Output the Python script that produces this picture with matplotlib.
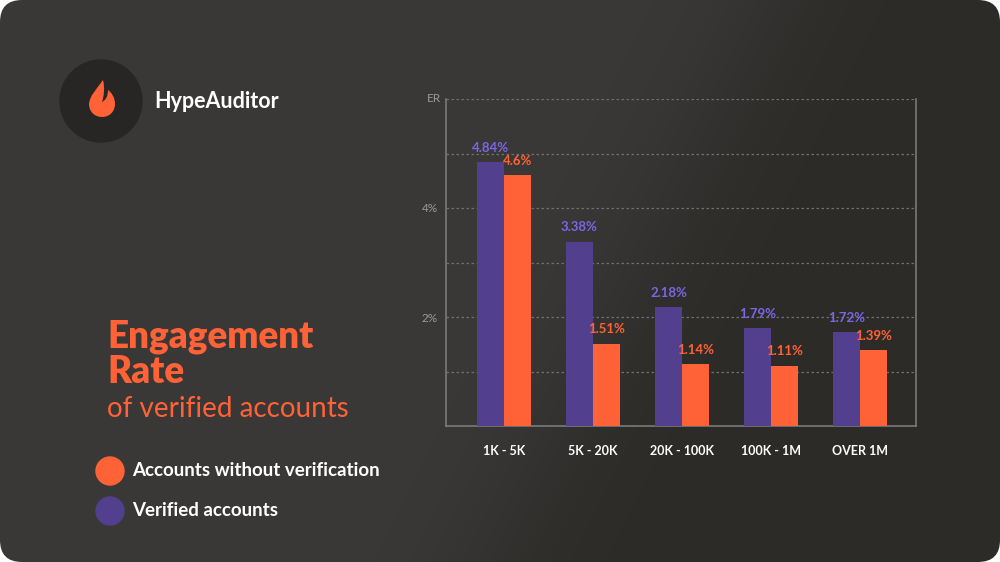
import matplotlib.pyplot as plt
import numpy as np
from matplotlib.patches import FancyBboxPatch, Circle, PathPatch
from matplotlib.path import Path

categories = ["1K - 5K", "5K - 20K", "20K - 100K", "100K - 1M", "OVER 1M"]
verified = [4.84, 3.38, 2.18, 1.79, 1.72]
not_verified = [4.6, 1.51, 1.14, 1.11, 1.39]
y_ticks = [2, 4]
y_tick_labels = ["2%", "4%"]

ORANGE = "#ff6236"
PURPLE = "#523f8e"
PURPLE_TXT = "#7b66e6"
FONT = "Lato"

fig = plt.figure(figsize=(10, 5.62), dpi=100, facecolor="white")

# background card with rounded corners and a soft diagonal shading
bg = fig.add_axes([0, 0, 1, 1])
bg.set_xlim(0, 1000)
bg.set_ylim(562, 0)
bg.axis("off")
xx, yy = np.meshgrid(np.linspace(0, 1000, 500), np.linspace(0, 562, 281))
d = (xx - (770 - 0.5 * yy)) / 45.0
shade = 1 / (1 + np.exp(d))
light = np.array([0x3a, 0x39, 0x38]) / 255
dark = np.array([0x2d, 0x2b, 0x28]) / 255
img = shade[..., None] * light + (1 - shade[..., None]) * dark
card = FancyBboxPatch((0, 0), 1000, 562, boxstyle="round,pad=0,rounding_size=22",
                      facecolor="none", edgecolor="none")
bg.add_patch(card)
im = bg.imshow(img, extent=(0, 1000, 562, 0), aspect="auto", zorder=0)
im.set_clip_path(card)

# logo
bg.add_patch(Circle((101, 101), 41, color="#272625", zorder=2))
flame = Path(
    [(103, 80), (96, 90), (90, 95), (89, 104), (89, 112), (95, 117), (102, 117),
     (110, 117), (115, 111), (115, 104), (115, 97), (111, 92), (108, 90),
     (108, 96), (106, 100), (102, 102), (104, 96), (105, 88), (103, 80), (103, 80)],
    [Path.MOVETO, Path.CURVE4, Path.CURVE4, Path.CURVE4, Path.CURVE4, Path.CURVE4,
     Path.CURVE4, Path.CURVE4, Path.CURVE4, Path.CURVE4, Path.CURVE4, Path.CURVE4,
     Path.CURVE4, Path.CURVE4, Path.CURVE4, Path.CURVE4, Path.CURVE4, Path.CURVE4,
     Path.CURVE4, Path.CLOSEPOLY])
bg.add_patch(PathPatch(flame, facecolor=ORANGE, edgecolor="none", zorder=3))
bg.text(154, 101, "HypeAuditor", color="white", fontsize=15.5, fontweight="bold",
        family=FONT, va="center", ha="left")

# title block
bg.text(107, 347, "Engagement", color=ORANGE, fontsize=26.5, fontweight="heavy",
        family=FONT, va="baseline")
bg.text(107, 383, "Rate", color=ORANGE, fontsize=26.5, fontweight="heavy",
        family=FONT, va="baseline")
bg.text(107, 417, "of verified accounts", color=ORANGE, fontsize=20,
        family=FONT, va="baseline")

# legend
legend_items = [("Accounts without verification", ORANGE), ("Verified accounts", PURPLE)]
for i, (lab, col) in enumerate(legend_items):
    y = 471 + i * 40
    bg.add_patch(Circle((110, y), 14, color=col, zorder=2))
    bg.text(132, y, lab, color="white", fontsize=13.5, fontweight="bold",
            family=FONT, va="center", ha="left")

# chart
ax = fig.add_axes([0.446, 1 - 426 / 562, 0.47, (426 - 99) / 562])
ax.set_facecolor("none")
x = np.arange(len(categories))
w = 0.30
b1 = ax.bar(x - w / 2, verified, w, color=PURPLE, zorder=3)
b2 = ax.bar(x + w / 2, not_verified, w, color=ORANGE, zorder=3)
for rect, v in zip(b1, verified):
    ax.annotate(f"{v:g}%", (rect.get_x() + rect.get_width() / 2, v),
                xytext=(0, 6), textcoords="offset points", ha="center",
                va="bottom", color=PURPLE_TXT, fontsize=9.5, fontweight="bold",
                family=FONT)
for rect, v in zip(b2, not_verified):
    ax.annotate(f"{v:g}%", (rect.get_x() + rect.get_width() / 2, v),
                xytext=(0, 6), textcoords="offset points", ha="center",
                va="bottom", color=ORANGE, fontsize=9.5, fontweight="bold",
                family=FONT)

ax.set_xlim(-0.65, 4.63)
ax.set_ylim(0, 6)
ax.set_yticks(y_ticks)
ax.set_yticks([1, 3, 5, 6], minor=True)
for which in ["major", "minor"]:
    ax.yaxis.grid(True, which=which, color="#707070", linestyle=(0, (2, 2)),
                  linewidth=0.9, zorder=1)
ax.set_yticklabels(y_tick_labels, color="#9a9a9a", fontsize=8.5, family=FONT)
ax.set_xticks(x)
ax.set_xticklabels(categories, color="white", fontsize=9, fontweight="bold",
                   family=FONT)
ax.tick_params(axis="both", length=0, pad=6)
ax.tick_params(axis="x", pad=14)
ax.tick_params(axis="y", which="minor", length=0)
for side in ["left", "bottom", "right"]:
    ax.spines[side].set_color("#7a7a7a")
    ax.spines[side].set_linewidth(1.2)
ax.spines["top"].set_visible(False)
ax.text(-0.01, 1.0, "ER", transform=ax.transAxes, ha="right", va="center",
        color="#9a9a9a", fontsize=8.5, family=FONT)

fig.savefig("out.png", dpi=100, facecolor="white")
